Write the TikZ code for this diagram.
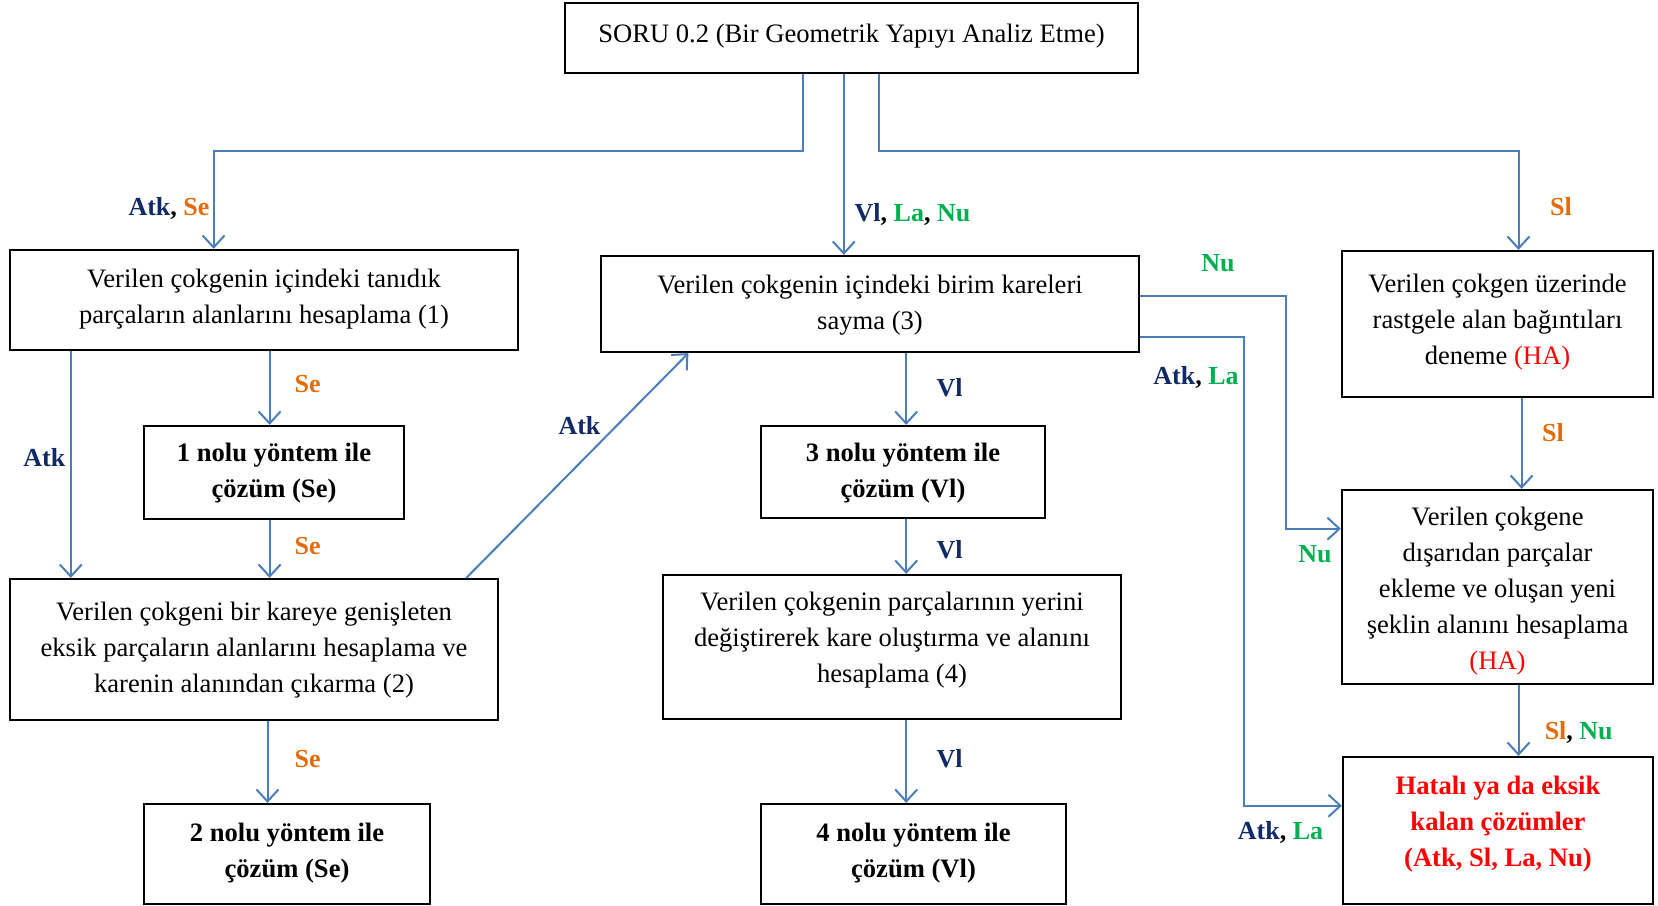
\documentclass[tikz,border=0pt]{standalone}
\usepackage{fontspec}
\setmainfont{Liberation Serif}
\usetikzlibrary{arrows.meta}
\definecolor{linkblue}{HTML}{4A7EBB}
\definecolor{navy}{HTML}{0F2A66}
\definecolor{tagorange}{HTML}{E36C0A}
\definecolor{taggreen}{HTML}{00B050}
\definecolor{tagred}{HTML}{FF0000}
\newcommand{\At}{\textcolor{navy}{Atk}}
\newcommand{\Vl}{\textcolor{navy}{Vl}}
\newcommand{\Se}{\textcolor{tagorange}{Se}}
\newcommand{\Sl}{\textcolor{tagorange}{Sl}}
\newcommand{\La}{\textcolor{taggreen}{La}}
\newcommand{\Nu}{\textcolor{taggreen}{Nu}}
% centred lines of a box, raised by #1 while keeping their natural size
\newcommand{\lines}[2]{\raisebox{#1}[\height][\depth]{\begin{tabular}{@{}c@{}}#2\end{tabular}}}
\tikzset{
  box/.style={draw, line width=1.1pt, align=center, inner sep=2pt,
    font=\fontsize{13.3}{18}\selectfont},
  boldbox/.style={box, font=\bfseries\fontsize{13.3}{18}\selectfont},
  link/.style={draw=linkblue, line width=1pt},
  arr/.style={link, -{Straight Barb[length=6pt,width=11pt,line width=1pt]}},
  tag/.style={inner sep=0pt, font=\bfseries\fontsize{13}{15}\selectfont}
}
\begin{document}
\begin{tikzpicture}[x=0.5pt,y=-0.5pt]
\useasboundingbox (0,0) rectangle (1658,905);

% boxes
\node[box, minimum width=286.5pt, minimum height=35pt] (top) at (851.5,38)
  {\lines{1.6pt}{SORU 0.2 (Bir Geometrik Yapıyı Analiz Etme)}};
\node[box, minimum width=254pt, minimum height=50pt] (b1) at (264,300)
  {\lines{1pt}{Verilen çokgenin içindeki tanıdık\\parçaların alanlarını hesaplama (1)}};
\node[boldbox, minimum width=130pt, minimum height=46.5pt] (m1) at (274,472.5)
  {\lines{0pt}{1 nolu yöntem ile\\çözüm (Se)}};
\node[box, minimum width=244pt, minimum height=70.5pt] (b2) at (254,649.5)
  {\lines{0pt}{Verilen çokgeni bir kareye genişleten\\eksik parçaların alanlarını hesaplama ve\\karenin alanından çıkarma (2)}};
\node[boldbox, minimum width=143pt, minimum height=50pt] (m2) at (287,854)
  {\lines{1pt}{2 nolu yöntem ile\\çözüm (Se)}};
\node[box, minimum width=269pt, minimum height=48pt] (b3) at (870,304)
  {\lines{0pt}{Verilen çokgenin içindeki birim kareleri\\sayma (3)}};
\node[boldbox, minimum width=142pt, minimum height=46pt] (m3) at (903,472)
  {\lines{0pt}{3 nolu yöntem ile\\çözüm (Vl)}};
\node[box, minimum width=229pt, minimum height=72pt] (b4) at (892,647)
  {\lines{3.7pt}{Verilen çokgenin parçalarının yerini\\değiştirerek kare oluştırma ve alanını\\hesaplama (4)}};
\node[boldbox, minimum width=152.5pt, minimum height=50pt] (m4) at (913.5,854)
  {\lines{1pt}{4 nolu yöntem ile\\çözüm (Vl)}};
\node[box, minimum width=155.5pt, minimum height=73pt] (ha1) at (1497.5,324)
  {\lines{1.6pt}{Verilen çokgen üzerinde\\rastgele alan bağıntıları\\deneme \textcolor{tagred}{(HA)}}};
\node[box, minimum width=155.5pt, minimum height=97pt] (ha2) at (1497.5,587)
  {\lines{-1.6pt}{Verilen çokgene\\dışarıdan parçalar\\ekleme ve oluşan yeni\\şeklin alanını hesaplama\\\textcolor{tagred}{(HA)}}};
\node[boldbox, text=tagred, minimum width=155pt, minimum height=73.5pt] (hat) at (1498,830.5)
  {\lines{3.7pt}{Hatalı ya da eksik\\kalan çözümler\\(Atk, Sl, La, Nu)}};

% connectors from the question box
\draw[arr] (802.6,0 |- top.south) |- (213.6,151) -- (213.6,0 |- b1.north);
\draw[arr] (843.8,0 |- top.south) -- (843.8,0 |- b3.north);
\draw[arr] (878.7,0 |- top.south) |- (1518.5,151) -- (1518.5,0 |- ha1.north);

% left column
\draw[arr] (269.6,0 |- b1.south) -- (269.6,0 |- m1.north);
\draw[arr] (70.8,0 |- b1.south) -- (70.8,0 |- b2.north);
\draw[arr] (269.6,0 |- m1.south) -- (269.6,0 |- b2.north);
\draw[arr] (267.5,0 |- b2.south) -- (267.5,0 |- m2.north);
\draw[arr] (466.3,0 |- b2.north) -- (688.4,0 |- b3.south);

% middle column
\draw[arr] (906.2,0 |- b3.south) -- (906.2,0 |- m3.north);
\draw[arr] (906.2,0 |- m3.south) -- (906.2,0 |- b4.north);
\draw[arr] (906.2,0 |- b4.south) -- (906.2,0 |- m4.north);

% side branches to the right column
\draw[arr] (b3.east |- 0,296) -| (1285.8,528.7) -- (ha2.west |- 0,528.7);
\draw[arr] (b3.east |- 0,337.3) -| (1243.5,805.7) -- (hat.west |- 0,805.7);

% right column
\draw[arr] (1521.6,0 |- ha1.south) -- (1521.6,0 |- ha2.north);
\draw[arr] (1518.5,0 |- ha2.south) -- (1518.5,0 |- hat.north);

% connector tags
\node[tag] (t1) at (169,208) {\At, \Se};
\node[tag] (t2) at (912.5,214.7) {\Vl, \La, \Nu};
\node[tag] (t3) at (1561,207) {\Sl};
\node[tag] (t4) at (1218,263) {\Nu};
\node[tag] (t5) at (307.7,384) {\Se};
\node[tag] (t6) at (44.4,458) {\At};
\node[tag] (t7) at (579.5,426) {\At};
\node[tag] (t8) at (949.5,388) {\Vl};
\node[tag] (t9) at (1196,377.5) {\At, \La};
\node[tag] (t10) at (1553,432.5) {\Sl};
\node[tag] (t11) at (307.7,545.6) {\Se};
\node[tag] (t12) at (949.5,550) {\Vl};
\node[tag] (t13) at (1315,554) {\Nu};
\node[tag] (t14) at (1578.7,732.8) {\Sl, \Nu};
\node[tag] (t15) at (307.7,759) {\Se};
\node[tag] (t16) at (949.5,759) {\Vl};
\node[tag] (t17) at (1280.5,832) {\At, \La};
\end{tikzpicture}
\end{document}
